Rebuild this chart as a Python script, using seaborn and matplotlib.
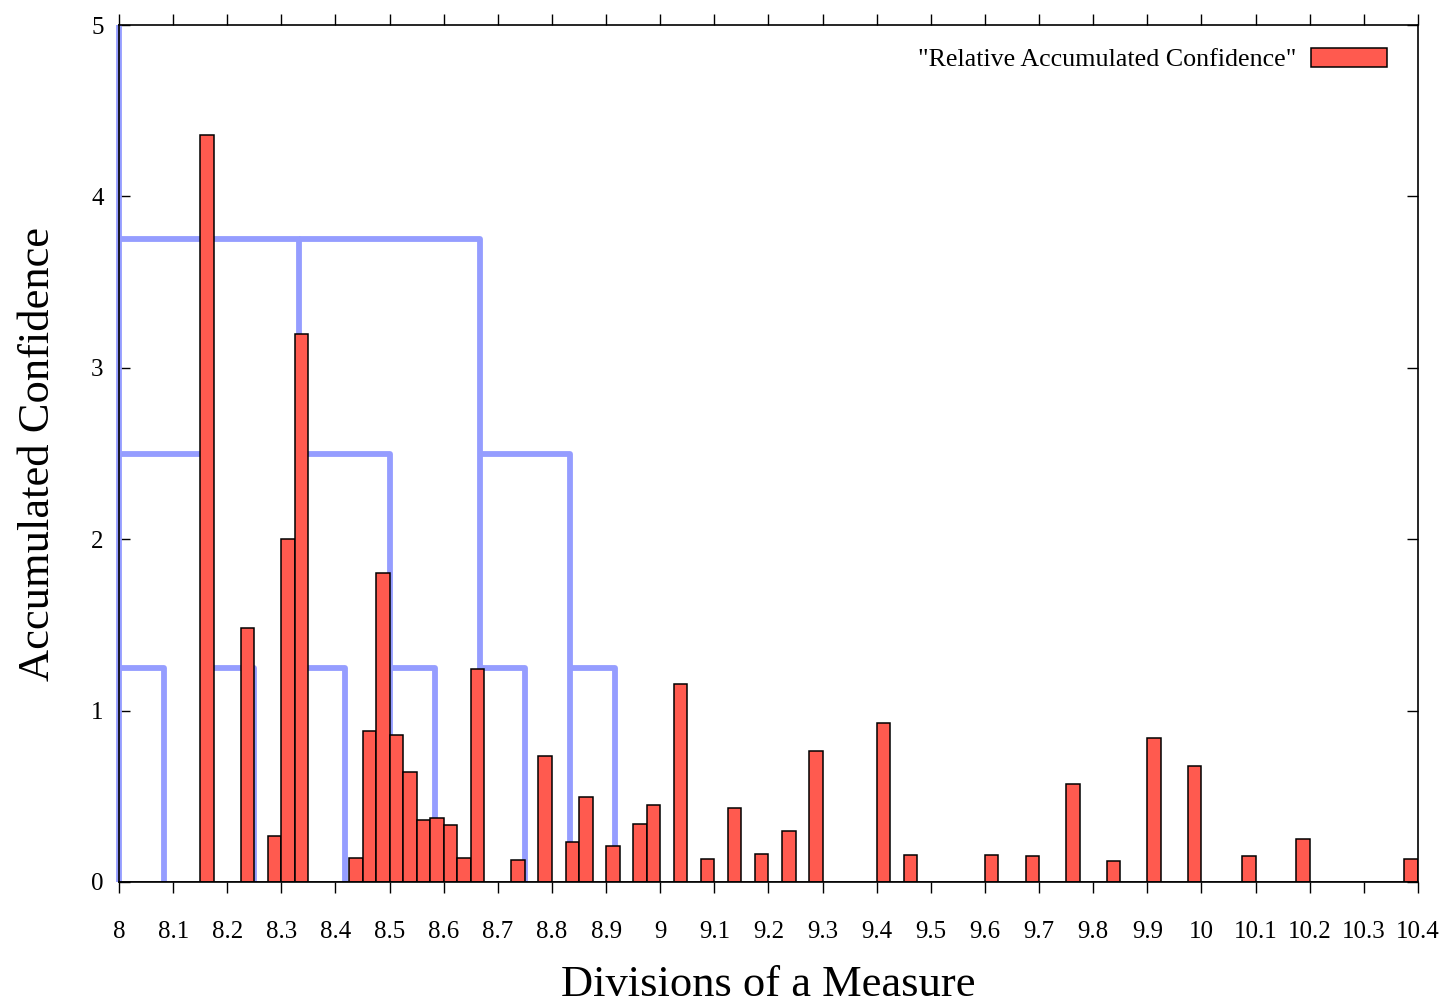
import numpy as np
import pandas as pd
import seaborn as sns
import matplotlib
matplotlib.use("Agg")
import matplotlib.pyplot as plt
from matplotlib.patches import Patch

# histogram bins are 0.025 wide, starting at 8.0 -> bin centres and heights
bar_x = [8.1625, 8.2375, 8.2875, 8.3125, 8.3375, 8.4375, 8.4625, 8.4875,
         8.5125, 8.5375, 8.5625, 8.5875, 8.6125, 8.6375, 8.6625, 8.7375,
         8.7875, 8.8375, 8.8625, 8.9125, 8.9625, 8.9875, 9.0375, 9.0875,
         9.1375, 9.1875, 9.2375, 9.2875, 9.4125, 9.4625, 9.6125, 9.6875,
         9.7625, 9.8375, 9.9125, 9.9875, 10.0875, 10.1875, 10.3875]
bar_h = [4.36, 1.48, 0.27, 2.0, 3.2, 0.14, 0.88, 1.80,
         0.86, 0.64, 0.36, 0.375, 0.335, 0.14, 1.245, 0.13,
         0.735, 0.235, 0.495, 0.21, 0.34, 0.45, 1.155, 0.135,
         0.43, 0.165, 0.30, 0.765, 0.93, 0.16, 0.155, 0.15,
         0.57, 0.125, 0.84, 0.675, 0.15, 0.25, 0.135]

# metrical grid brackets: horizontal from start to end at level, then down to 0
tree_start = [8.0, 8.0, 8.3333, 8.0, 8.3333, 8.6667,
              8.0, 8.1667, 8.3333, 8.5, 8.6667, 8.8333]
tree_end = [8.0, 8.3333, 8.6667, 8.1667, 8.5, 8.8333,
            8.0833, 8.25, 8.4167, 8.5833, 8.75, 8.9167]
tree_level = [5.0, 3.75, 3.75, 2.5, 2.5, 2.5,
              1.25, 1.25, 1.25, 1.25, 1.25, 1.25]

x_ticks = [8.0, 8.1, 8.2, 8.3, 8.4, 8.5, 8.6, 8.7, 8.8, 8.9, 9.0, 9.1,
           9.2, 9.3, 9.4, 9.5, 9.6, 9.7, 9.8, 9.9, 10.0, 10.1, 10.2, 10.3, 10.4]
y_ticks = [0, 1, 2, 3, 4, 5]

legend_label = '"Relative Accumulated Confidence"'

sns.set_theme(style="ticks", rc={"text.color": "black",
                                 "axes.labelcolor": "black"})
plt.rcParams['font.family'] = ['Liberation Serif', 'DejaVu Serif']

fig, ax = plt.subplots(figsize=(14.46, 10.06), dpi=100)
fig.subplots_adjust(left=0.0823, right=0.9806, bottom=0.1233, top=0.9751)

# build step paths for the bracket tree
rows = []
for i, (s, e, lv) in enumerate(zip(tree_start, tree_end, tree_level)):
    rows += [(i, 0, s, lv), (i, 1, e, lv), (i, 2, e, 0.0)]
tree = pd.DataFrame(rows, columns=["seg", "order", "x", "y"])

sns.lineplot(data=tree, x="x", y="y", units="seg", estimator=None,
             sort=False, color="#959dff", linewidth=4.2, ax=ax, zorder=1,
             clip_on=False, solid_capstyle="butt")

bars = pd.DataFrame({"x": bar_x, "h": bar_h})
sns.histplot(data=bars, x="x", weights="h", binwidth=0.025,
             binrange=(8.0, 10.4), color="#ff5a4f", alpha=1,
             edgecolor="black", linewidth=1.1, ax=ax, zorder=3)

ax.set_xlim(8.0, 10.4)
ax.set_ylim(0, 5)
ax.set_xticks(x_ticks)
ax.set_xticklabels([f"{t:g}" for t in x_ticks])
ax.set_yticks(y_ticks)

ax.tick_params(axis="x", direction="out", top=True, bottom=True,
               length=8, width=1, pad=20, labelsize=18, colors="black")
ax.tick_params(axis="y", direction="in", left=True, right=True,
               length=8, width=1, pad=11, labelsize=18, colors="black")
for sp in ax.spines.values():
    sp.set_visible(True)
    sp.set_color("black")
    sp.set_linewidth(1.2)
    sp.set_zorder(5)

ax.set_xlabel("Divisions of a Measure", fontsize=32, labelpad=16)
ax.set_ylabel("Accumulated Confidence", fontsize=32, labelpad=24)

handle = Patch(facecolor="#ff5a4f", edgecolor="black", linewidth=1.1)
ax.legend([handle], [legend_label], loc="upper right", frameon=False,
          markerfirst=False, fontsize=18.7, handlelength=2.9, handleheight=0.75,
          bbox_to_anchor=(0.994, 1.001), handletextpad=0.6)

fig.savefig("out.png", dpi=100)
plt.close(fig)
